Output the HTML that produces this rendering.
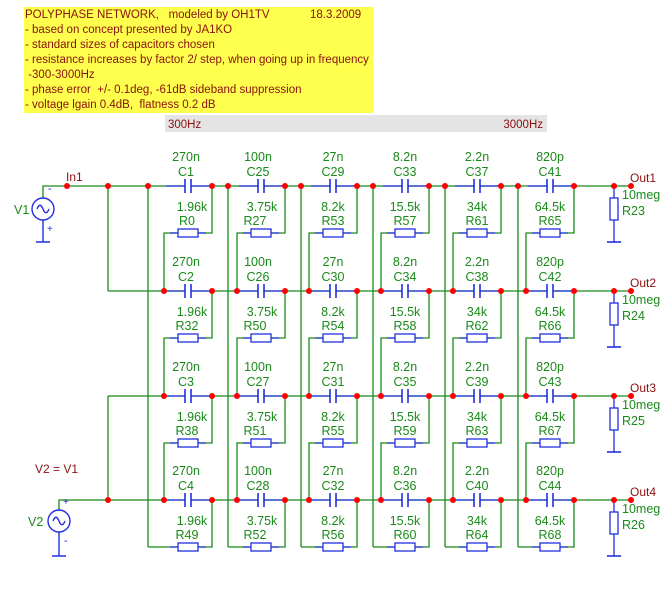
<!DOCTYPE html>
<html><head><meta charset="utf-8"><style>
html,body{margin:0;padding:0;background:#fff;width:672px;height:593px;overflow:hidden}
svg{display:block}
text{font-family:"Liberation Sans",Arial,sans-serif}
.h{font-size:11.5px;fill:#8a1010}
.g{font-size:12.5px;fill:#1a8a1a}
.gm{font-size:12.5px;fill:#1a8a1a;text-anchor:middle}
.r{font-size:12px;fill:#8a1010}
</style></head><body>
<svg width="672" height="593" viewBox="0 0 672 593">
<defs>
<g id="cap"><line x1="-22" y1="0" x2="22" y2="0" stroke="#2030e0" stroke-width="1.3"/><rect x="-3" y="-8" width="6" height="16" fill="#fff"/><line x1="-3" y1="-7" x2="-3" y2="7" stroke="#2030e0" stroke-width="1.6"/><line x1="3" y1="-7" x2="3" y2="7" stroke="#2030e0" stroke-width="1.6"/></g>
<g id="res"><line x1="-18" y1="0" x2="18" y2="0" stroke="#2030e0" stroke-width="1.3"/><rect x="-10" y="-4" width="20" height="8" fill="#fff" stroke="#2030e0" stroke-width="1.3"/></g>
<g id="rv"><line x1="0" y1="0" x2="0" y2="56" stroke="#2030e0" stroke-width="1.3"/><rect x="-4" y="12" width="8" height="22" fill="#fff" stroke="#2030e0" stroke-width="1.3"/><line x1="-7" y1="56" x2="7" y2="56" stroke="#2030e0" stroke-width="1.6"/></g>
</defs>
<rect x="24" y="7" width="349" height="106" fill="#ffff4d"/>
<rect x="165" y="115" width="382" height="17" fill="#e4e4e4"/>
<text class="h" x="25" y="18">POLYPHASE NETWORK,&#160;&#160; modeled by OH1TV</text>
<text class="h" x="310" y="18">18.3.2009</text>
<text class="h" x="25" y="33">- based on concept presented by JA1KO</text>
<text class="h" x="25" y="48">- standard sizes of capacitors chosen</text>
<text class="h" x="25" y="63">- resistance increases by factor 2/ step, when going up in frequency</text>
<text class="h" x="25" y="78">&#160;-300-3000Hz</text>
<text class="h" x="25" y="93">- phase error&#160; +/- 0.1deg, -61dB sideband suppression</text>
<text class="h" x="25" y="108">- voltage lgain 0.4dB,&#160; flatness 0.2 dB</text>
<text class="h" x="168" y="128">300Hz</text>
<text class="h" x="543" y="128" text-anchor="end">3000Hz</text>

<g stroke="#1a8a1a" stroke-width="1.3" fill="none">
<path d="M43 198V186H631M108 291H631M108 396H631M59 509V500H631"/>
<path d="M108 186V291M108 396V500"/>
<path d="M148 186V547M228 186V547M301 186V547M373 186V547M445 186V547M518 186V547"/>
<path d="M212 186V233H164V291M212 291V338H164V396M212 396V443H164V500M212 500V547H148"/>
<path d="M285 186V233H237V291M285 291V338H237V396M285 396V443H237V500M285 500V547H228"/>
<path d="M357 186V233H309V291M357 291V338H309V396M357 396V443H309V500M357 500V547H301"/>
<path d="M429 186V233H381V291M429 291V338H381V396M429 396V443H381V500M429 500V547H373"/>
<path d="M501 186V233H453V291M501 291V338H453V396M501 396V443H453V500M501 500V547H445"/>
<path d="M574 186V233H526V291M574 291V338H526V396M574 396V443H526V500M574 500V547H518"/>
</g>

<g>
<use href="#cap" x="188" y="186"/><use href="#cap" x="261" y="186"/><use href="#cap" x="333" y="186"/><use href="#cap" x="405" y="186"/><use href="#cap" x="477" y="186"/><use href="#cap" x="550" y="186"/>
<use href="#cap" x="188" y="291"/><use href="#cap" x="261" y="291"/><use href="#cap" x="333" y="291"/><use href="#cap" x="405" y="291"/><use href="#cap" x="477" y="291"/><use href="#cap" x="550" y="291"/>
<use href="#cap" x="188" y="396"/><use href="#cap" x="261" y="396"/><use href="#cap" x="333" y="396"/><use href="#cap" x="405" y="396"/><use href="#cap" x="477" y="396"/><use href="#cap" x="550" y="396"/>
<use href="#cap" x="188" y="500"/><use href="#cap" x="261" y="500"/><use href="#cap" x="333" y="500"/><use href="#cap" x="405" y="500"/><use href="#cap" x="477" y="500"/><use href="#cap" x="550" y="500"/>
<use href="#res" x="188" y="233"/><use href="#res" x="261" y="233"/><use href="#res" x="333" y="233"/><use href="#res" x="405" y="233"/><use href="#res" x="477" y="233"/><use href="#res" x="550" y="233"/>
<use href="#res" x="188" y="338"/><use href="#res" x="261" y="338"/><use href="#res" x="333" y="338"/><use href="#res" x="405" y="338"/><use href="#res" x="477" y="338"/><use href="#res" x="550" y="338"/>
<use href="#res" x="188" y="443"/><use href="#res" x="261" y="443"/><use href="#res" x="333" y="443"/><use href="#res" x="405" y="443"/><use href="#res" x="477" y="443"/><use href="#res" x="550" y="443"/>
<use href="#res" x="188" y="547"/><use href="#res" x="261" y="547"/><use href="#res" x="333" y="547"/><use href="#res" x="405" y="547"/><use href="#res" x="477" y="547"/><use href="#res" x="550" y="547"/>
<use href="#rv" x="614" y="186"/><use href="#rv" x="614" y="291"/><use href="#rv" x="614" y="396"/><use href="#rv" x="614" y="500"/>
</g>

<g stroke="#2030e0" stroke-width="1.4" fill="none">
<path d="M43 198V220M43 220V242M36 242H50"/>
<circle cx="43" cy="209" r="11" fill="#fff"/>
<path d="M37 209c2-5 4-5 6 0s4 5 6 0"/>
<path d="M59 509V533M59 533V556M52 556H66"/>
<circle cx="59" cy="521" r="11" fill="#fff"/>
<path d="M53 521c2-5 4-5 6 0s4 5 6 0"/>
</g>
<text class="g" x="14" y="214">V1</text>
<text class="g" x="28" y="526">V2</text>
<text x="48" y="192" style="font-size:11px;fill:#2030e0">-</text>
<text x="47" y="232" style="font-size:10px;fill:#2030e0">+</text>
<text x="63" y="505" style="font-size:10px;fill:#2030e0">+</text>
<text x="64" y="544" style="font-size:11px;fill:#2030e0">-</text>
<text class="r" x="66" y="181">In1</text>
<text class="r" x="35" y="473">V2 = V1</text>
<text class="r" x="630" y="182">Out1</text>
<text class="r" x="630" y="287">Out2</text>
<text class="r" x="630" y="392">Out3</text>
<text class="r" x="630" y="496">Out4</text>
<g class="g">
<text x="622" y="199">10meg</text><text x="622" y="215">R23</text>
<text x="622" y="304">10meg</text><text x="622" y="320">R24</text>
<text x="622" y="409">10meg</text><text x="622" y="425">R25</text>
<text x="622" y="513">10meg</text><text x="622" y="529">R26</text>
</g>

<g class="gm">
<text x="186" y="161">270n</text><text x="186" y="176">C1</text><text x="258" y="161">100n</text><text x="258" y="176">C25</text><text x="333" y="161">27n</text><text x="333" y="176">C29</text><text x="405" y="161">8.2n</text><text x="405" y="176">C33</text><text x="477" y="161">2.2n</text><text x="477" y="176">C37</text><text x="550" y="161">820p</text><text x="550" y="176">C41</text>
<text x="192" y="211">1.96k</text><text x="187" y="225">R0</text><text x="262" y="211">3.75k</text><text x="255" y="225">R27</text><text x="333" y="211">8.2k</text><text x="333" y="225">R53</text><text x="405" y="211">15.5k</text><text x="405" y="225">R57</text><text x="477" y="211">34k</text><text x="477" y="225">R61</text><text x="550" y="211">64.5k</text><text x="550" y="225">R65</text>

<text x="186" y="266">270n</text><text x="186" y="281">C2</text><text x="258" y="266">100n</text><text x="258" y="281">C26</text><text x="333" y="266">27n</text><text x="333" y="281">C30</text><text x="405" y="266">8.2n</text><text x="405" y="281">C34</text><text x="477" y="266">2.2n</text><text x="477" y="281">C38</text><text x="550" y="266">820p</text><text x="550" y="281">C42</text>
<text x="192" y="316">1.96k</text><text x="187" y="330">R32</text><text x="262" y="316">3.75k</text><text x="255" y="330">R50</text><text x="333" y="316">8.2k</text><text x="333" y="330">R54</text><text x="405" y="316">15.5k</text><text x="405" y="330">R58</text><text x="477" y="316">34k</text><text x="477" y="330">R62</text><text x="550" y="316">64.5k</text><text x="550" y="330">R66</text>

<text x="186" y="371">270n</text><text x="186" y="386">C3</text><text x="258" y="371">100n</text><text x="258" y="386">C27</text><text x="333" y="371">27n</text><text x="333" y="386">C31</text><text x="405" y="371">8.2n</text><text x="405" y="386">C35</text><text x="477" y="371">2.2n</text><text x="477" y="386">C39</text><text x="550" y="371">820p</text><text x="550" y="386">C43</text>
<text x="192" y="421">1.96k</text><text x="187" y="435">R38</text><text x="262" y="421">3.75k</text><text x="255" y="435">R51</text><text x="333" y="421">8.2k</text><text x="333" y="435">R55</text><text x="405" y="421">15.5k</text><text x="405" y="435">R59</text><text x="477" y="421">34k</text><text x="477" y="435">R63</text><text x="550" y="421">64.5k</text><text x="550" y="435">R67</text>

<text x="186" y="475">270n</text><text x="186" y="490">C4</text><text x="258" y="475">100n</text><text x="258" y="490">C28</text><text x="333" y="475">27n</text><text x="333" y="490">C32</text><text x="405" y="475">8.2n</text><text x="405" y="490">C36</text><text x="477" y="475">2.2n</text><text x="477" y="490">C40</text><text x="550" y="475">820p</text><text x="550" y="490">C44</text>
<text x="192" y="525">1.96k</text><text x="187" y="539">R49</text><text x="262" y="525">3.75k</text><text x="255" y="539">R52</text><text x="333" y="525">8.2k</text><text x="333" y="539">R56</text><text x="405" y="525">15.5k</text><text x="405" y="539">R60</text><text x="477" y="525">34k</text><text x="477" y="539">R64</text><text x="550" y="525">64.5k</text><text x="550" y="539">R68</text>
</g>

<g fill="#ff0000">
<circle cx="67" cy="186" r="3"/><circle cx="108" cy="186" r="3"/><circle cx="148" cy="186" r="3"/>
<circle cx="108" cy="500" r="3"/>
<circle cx="212" cy="186" r="3"/><circle cx="285" cy="186" r="3"/><circle cx="357" cy="186" r="3"/><circle cx="429" cy="186" r="3"/><circle cx="501" cy="186" r="3"/><circle cx="574" cy="186" r="3"/>
<circle cx="228" cy="186" r="3"/><circle cx="301" cy="186" r="3"/><circle cx="373" cy="186" r="3"/><circle cx="445" cy="186" r="3"/><circle cx="518" cy="186" r="3"/>
<circle cx="164" cy="291" r="3"/><circle cx="237" cy="291" r="3"/><circle cx="309" cy="291" r="3"/><circle cx="381" cy="291" r="3"/><circle cx="453" cy="291" r="3"/><circle cx="526" cy="291" r="3"/>
<circle cx="212" cy="291" r="3"/><circle cx="285" cy="291" r="3"/><circle cx="357" cy="291" r="3"/><circle cx="429" cy="291" r="3"/><circle cx="501" cy="291" r="3"/><circle cx="574" cy="291" r="3"/>
<circle cx="164" cy="396" r="3"/><circle cx="237" cy="396" r="3"/><circle cx="309" cy="396" r="3"/><circle cx="381" cy="396" r="3"/><circle cx="453" cy="396" r="3"/><circle cx="526" cy="396" r="3"/>
<circle cx="212" cy="396" r="3"/><circle cx="285" cy="396" r="3"/><circle cx="357" cy="396" r="3"/><circle cx="429" cy="396" r="3"/><circle cx="501" cy="396" r="3"/><circle cx="574" cy="396" r="3"/>
<circle cx="164" cy="500" r="3"/><circle cx="237" cy="500" r="3"/><circle cx="309" cy="500" r="3"/><circle cx="381" cy="500" r="3"/><circle cx="453" cy="500" r="3"/><circle cx="526" cy="500" r="3"/>
<circle cx="212" cy="500" r="3"/><circle cx="285" cy="500" r="3"/><circle cx="357" cy="500" r="3"/><circle cx="429" cy="500" r="3"/><circle cx="501" cy="500" r="3"/><circle cx="574" cy="500" r="3"/>
<circle cx="614" cy="186" r="3"/><circle cx="631" cy="186" r="3"/><circle cx="614" cy="291" r="3"/><circle cx="631" cy="291" r="3"/>
<circle cx="614" cy="396" r="3"/><circle cx="631" cy="396" r="3"/><circle cx="614" cy="500" r="3"/><circle cx="631" cy="500" r="3"/>
</g>
</svg>
</body></html>
